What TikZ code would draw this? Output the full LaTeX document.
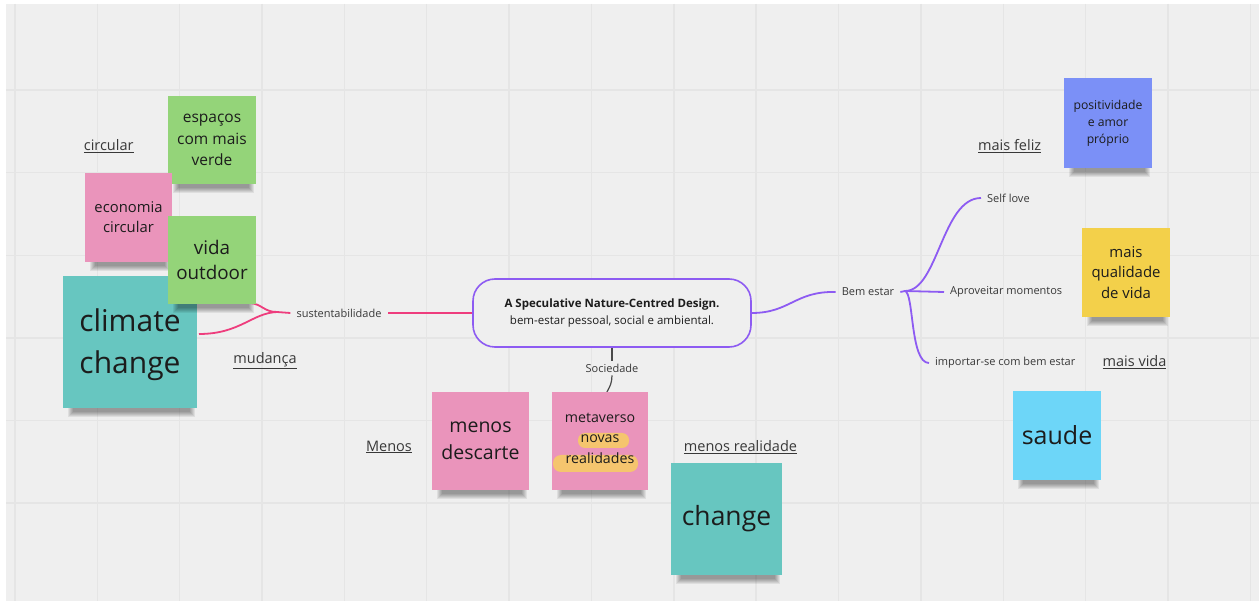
\documentclass[tikz,border=0pt]{standalone}
\usepackage{fontspec}
\setmainfont{Open Sans}
\newcommand\setfs[2]{\fontsize{#1}{#2}\selectfont}
% soft shadow under the bottom edge of a sticky note
\newcommand\noteshade[1]{%
  \foreach \l/\r/\d in {5/2/9, 6/3/8, 7/4/7, 8/5/6, 9/6/5, 10/7/4}{%
    \fill[black,opacity=0.07]
      ([xshift=\l pt,yshift=2pt]#1.south west) rectangle
      ([xshift=-\r pt,yshift=-\d pt]#1.south east);
  }}
% sticky note: name, centre, width, height, colour, font size/skip, text
\newcommand\sticky[8]{%
  \path (#2) node[minimum width=#3pt,minimum height=#4pt,inner sep=0pt] (#1) {};
  \noteshade{#1}
  \node[note,fill=#5,minimum width=#3pt,minimum height=#4pt,
        font=\setfs{#6}{#7}] at (#1.center) {#8};}
\definecolor{canvas}{HTML}{EFEFEF}
\definecolor{gridc}{HTML}{E5E5E5}
\definecolor{noteGreen}{HTML}{94D479}
\definecolor{notePink}{HTML}{EA94BB}
\definecolor{noteTeal}{HTML}{67C6C0}
\definecolor{noteBlue}{HTML}{7B90F7}
\definecolor{noteYellow}{HTML}{F3D04A}
\definecolor{noteSky}{HTML}{6DD6F8}
\definecolor{marker}{HTML}{F5C56E}
\definecolor{linkPink}{HTML}{EE3D7D}
\definecolor{linkPurple}{HTML}{8D5BF2}
\definecolor{linkGray}{HTML}{4A4A4A}
\definecolor{inkDark}{HTML}{1C1C1C}
\definecolor{inkLabel}{HTML}{383838}
\begin{document}
\begin{tikzpicture}[x=1pt,y=-1pt,
  gridline/.style={draw=gridc,line width=1.4pt},
  note/.style={inner sep=0pt,align=center,text=inkDark},
  branch/.style={inner xsep=6pt,inner ysep=3pt,text=inkLabel,font=\setfs{11}{14}},
  tag/.style={inner sep=2pt,text=inkLabel,font=\setfs{14.5}{18}},
  pinklink/.style={draw=linkPink,line width=1.8pt},
  purplelink/.style={draw=linkPurple,line width=1.8pt},
  graylink/.style={draw=linkGray,line width=1.2pt}]
\useasboundingbox (0,0) rectangle (1259,601);
% board and its grid
\fill[white] (0,0) rectangle (1259,601);
\fill[canvas] (6,4) rectangle (1259,601);
\foreach \i in {0,...,15} \draw[gridline] ({15+82.35*\i},4) -- ({15+82.35*\i},601);
\foreach \j in {1,...,6} \draw[gridline] (6,{7.5+82.6*\j}) -- (1259,{7.5+82.6*\j});

% central topic
\node[draw=linkPurple,line width=1.6pt,fill=canvas,rounded corners=22pt,
      minimum width=278pt,minimum height=68pt,align=center,text=inkDark,
      font=\setfs{11.5}{16.3}] (core) at (612,313)
  {\textbf{A Speculative Nature-Centred Design.}\\bem-estar pessoal, social e ambiental.};

% branch labels
\node[branch] (sust) at (339,313) {sustentabilidade};
\node[branch] (soc) at (612,368) {Sociedade};
\node[branch] (bem) at (868,292) {Bem estar};
\node[branch,anchor=west] (self) at (981,198) {Self love};
\node[branch,anchor=west] (aprov) at (944,292) {Aproveitar momentos};
\node[branch,anchor=west] (care) at (929,363) {importar-se com bem estar};

% connectors
\coordinate (sj) at (277,312);
\coordinate (sUp) at (250,303);
\coordinate (sLow) at (199,334);
\draw[pinklink] (core.west) -- (sust.east);
\draw[pinklink] (sust.west) -- (sj);
\draw[pinklink] (sj) .. controls (264,312) and (262,304) .. (sUp);
\draw[pinklink] (sj) .. controls (252,313) and (240,334) .. (sLow);

\coordinate (bj) at (905,291);
\draw[purplelink] (core.east) .. controls (790,313) and (795,291) .. (bem.west);
\draw[purplelink] (bem.east) -- (bj);
\draw[purplelink] (bj) .. controls (938,291) and (942,198) .. (self.west);
\draw[purplelink] (bj) -- (aprov.west);
\draw[purplelink] (bj) .. controls (914,293) and (910,363) .. (care.west);

\coordinate (mv) at (603,406);
\draw[graylink] (core.south) -- (soc.north);
\draw[graylink] (soc.south) .. controls (612,390) and (603,392) .. (mv);

% sticky notes, left cluster
\sticky{verde}{212,140}{88}{88}{noteGreen}{15.5}{21.5}{espaços\\com mais\\verde}
\sticky{econ}{128.5,217.5}{87}{89}{notePink}{14.8}{20}{economia\\circular}
\sticky{climate}{130,342}{134}{132}{noteTeal}{30}{42}{}
\node[note,font=\setfs{30}{42}] (climatetext) at ([yshift=-3pt]climate.center) {climate\\change};
\sticky{vida}{212,260}{88}{88}{noteGreen}{18.8}{25.5}{vida\\outdoor}

% sticky notes, bottom
\sticky{desc}{480.5,441}{97}{98}{notePink}{19.5}{27}{menos\\descarte}
\sticky{meta}{600,441}{96}{98}{notePink}{14.2}{20.5}{}
\fill[marker,rounded corners=7pt] (578,433) rectangle (629,448);
\fill[marker,rounded corners=8pt] (553,455) rectangle (638,472);
\node[note,font=\setfs{14.2}{20.5}] (metatext) at (600,438) {metaverso\\novas\\realidades};
\sticky{chg}{726.5,519}{111}{112}{noteTeal}{26.5}{32}{change}

% sticky notes, right cluster
\sticky{posi}{1108,123}{88}{90}{noteBlue}{12.2}{17}{positividade\\e amor\\próprio}
\sticky{qual}{1126,272.5}{88}{89}{noteYellow}{14.9}{20.7}{mais\\qualidade\\de vida}
\sticky{saude}{1057,435.5}{88}{89}{noteSky}{25}{30}{saude}

% underlined tags
\node[tag] (tCirc) at (108.7,146) {\underline{circular}};
\node[tag] (tMud) at (265,361) {\underline{mudança}};
\node[tag] (tMenos) at (389,447) {\underline{Menos}};
\node[tag] (tReal) at (740.5,447) {\underline{menos realidade}};
\node[tag] (tFeliz) at (1009.7,146) {\underline{mais feliz}};
\node[tag] (tVida) at (1134.5,362) {\underline{mais vida}};
\end{tikzpicture}
\end{document}
